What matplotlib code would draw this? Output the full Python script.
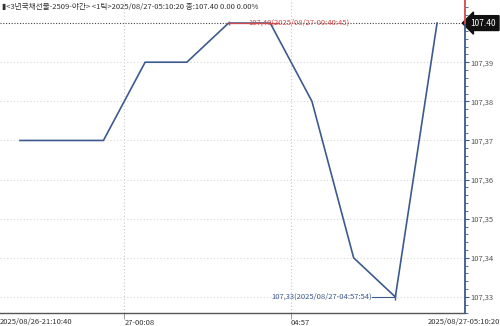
import numpy as np
import matplotlib.pyplot as plt
from matplotlib.ticker import FixedLocator, MultipleLocator

plt.rcParams['font.family'] = ['Noto Sans CJK KR', 'DejaVu Sans']

# data
prices = [107.37, 107.37, 107.37, 107.39, 107.39, 107.40, 107.40, 107.38, 107.34, 107.33, 107.40]
x_idx = np.arange(len(prices))
time_ticks = [2.5, 6.5]
time_labels = ['27-00:08', '04:57']
first_label = '2025/08/26-21:10:40'
last_label = '2025/08/27-05:10:20'
title = '▮<3년국채선물-2509-야간> <1틱>2025/08/27-05:10:20 종:107.40 0.00 0.00%'
last_price = 107.40
max_note = '107,40(2025/08/27-00:40:45)'
min_note = '107,33(2025/08/27-04:57:54)'
max_i, min_i = 5, 9

blue = '#3d5a8e'
red = '#d04a4a'

fig = plt.figure(figsize=(5, 3.26), dpi=100)
ax = fig.add_axes([0, 13/326, 465/500, 313/326])

ax.plot(x_idx, prices, color=blue, lw=1.2, zorder=3)

ax.set_xlim(-0.48, 10.67)
ax.set_ylim(107.3259, 107.4059)

# grid
ax.yaxis.tick_right()
ax.yaxis.set_major_locator(FixedLocator(np.round(np.arange(107.33, 107.395, 0.01), 2)))
ax.yaxis.set_minor_locator(MultipleLocator(0.002))
ax.set_yticklabels([f'{v:.2f}'.replace('.', ',') for v in ax.get_yticks()])
ax.tick_params(axis='y', which='major', length=3, width=0.8, colors=blue, labelcolor='#555555',
               labelsize=5.5, pad=1)
ax.tick_params(axis='y', which='minor', length=2, width=0.6, colors=blue)
ax.grid(axis='y', color='#d8d8d8', ls=(0, (1, 2)), lw=0.8)

ax.set_xticks(time_ticks)
ax.set_xticklabels(time_labels)
ax.tick_params(axis='x', length=4, width=0.6, colors='#888888', labelcolor='#333333',
               labelsize=5.5, pad=0)
for lab in ax.get_xticklabels():
    lab.set_horizontalalignment('left')
ax.grid(axis='x', color='#c8c8c8', ls=(0, (1, 2)), lw=0.8)

for s in ['left', 'top', 'right']:
    ax.spines[s].set_visible(False)
ax.spines['bottom'].set_color('#555555')
ax.spines['bottom'].set_linewidth(1.0)

# right axis line: blue below last price, red above
yt = ax.get_yaxis_transform()
ax.plot([1, 1], [107.3259, last_price], color=blue, lw=1.3, transform=yt, clip_on=False, zorder=5)
ax.plot([1, 1], [last_price, 107.4059], color=red, lw=1.3, transform=yt, clip_on=False, zorder=5)

# last price dotted line and label
ax.axhline(last_price, color='#444444', ls=(0, (1, 1.5)), lw=0.8, zorder=2)
ax.text(1.012, last_price, f'{last_price:.2f}', transform=yt, va='center', ha='left',
        fontsize=6, color='white',
        bbox=dict(boxstyle='larrow,pad=0.35', fc='#111111', ec='#111111'))

# max marker
ax.plot([x_idx[max_i], x_idx[max_i] + 1.2], [prices[max_i]] * 2, color=red, lw=0.9, zorder=4)
ax.plot([x_idx[max_i]], [prices[max_i]], marker='|', color=red, ms=3, zorder=4)
ax.text(x_idx[max_i] + 0.48, prices[max_i], max_note, color=red, fontsize=5.5,
        va='center', ha='left', zorder=4)

# min marker
ax.plot([x_idx[min_i] - 0.55, x_idx[min_i]], [prices[min_i]] * 2, color=blue, lw=0.8, zorder=4)
ax.plot([x_idx[min_i]], [prices[min_i]], marker='|', color=blue, ms=4, zorder=4)
ax.text(x_idx[min_i] - 0.56, prices[min_i], min_note, color=blue, fontsize=5.5,
        va='center', ha='right', zorder=4)

# title and edge labels
ax.text(0.004, 0.992, title, transform=ax.transAxes, fontsize=5.5, color='#333333',
        va='top', ha='left')
fig.text(0.0, 0.0, first_label, fontsize=5.5, color='#333333', va='bottom', ha='left')
fig.text(1.0, 0.0, last_label, fontsize=5.5, color='#333333', va='bottom', ha='right')

fig.savefig('out.png', dpi=100)
